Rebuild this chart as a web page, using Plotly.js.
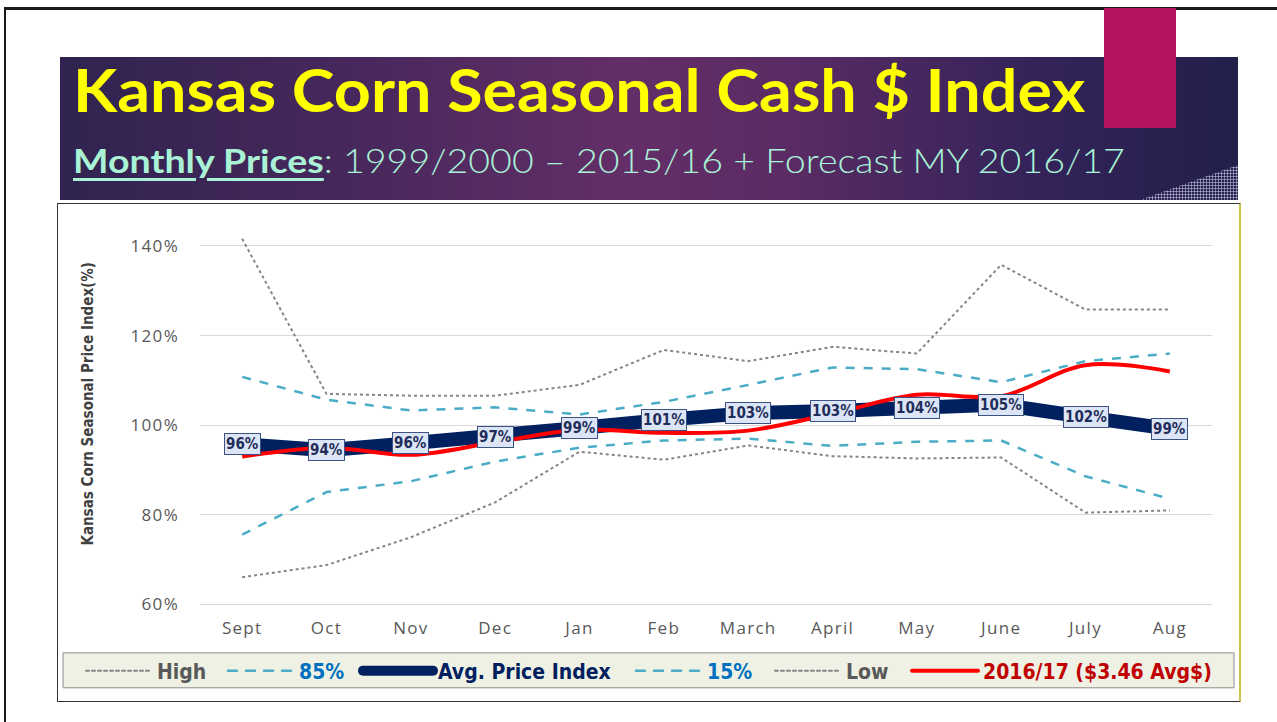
<!DOCTYPE html>
<html><head><meta charset="utf-8">
<script src="https://cdn.plot.ly/plotly-3.0.1.min.js"></script>
<style>
html,body{margin:0;padding:0;background:#fff;width:1277px;height:722px;overflow:hidden;position:relative}
#topline{position:absolute;left:4px;top:7px;width:1273px;height:3px;background:#1a1a1a}
#leftline{position:absolute;left:4px;top:7px;width:2px;height:715px;background:#1a1a1a}
#banner{position:absolute;left:60px;top:57px;width:1178px;height:143px;
 background:linear-gradient(90deg,#30234f 0%,#47285c 25%,#642e68 48%,#5a2b64 62%,#35235a 82%,#221f4a 100%)}
#checker{position:absolute;left:1140px;top:165px;width:98px;height:35px;
 clip-path:polygon(100% 0,100% 100%,0 100%);
 background-image:linear-gradient(90deg,rgba(200,200,230,.55) 1px,transparent 1px),linear-gradient(0deg,rgba(200,200,230,.55) 1px,transparent 1px);
 background-size:3px 3px}
#magenta{position:absolute;left:1104px;top:8px;width:72px;height:120px;background:#b3135f}
.t{position:absolute;white-space:nowrap;transform-origin:0 0;font-family:Lato,'Open Sans',sans-serif;line-height:1}
#title{left:73px;top:60px;color:#ffff00;font-weight:bold;font-size:59px}
#sub{left:73px;top:144px;color:#a9f2d6;font-size:33px;font-weight:300}
#sub b{font-weight:bold;text-decoration:underline;text-decoration-thickness:3px;text-underline-offset:5px}
#frame{position:absolute;left:57px;top:203px;width:1181px;height:497px;border:1px solid #333;border-right:2px solid #c9c24a}
#plot{position:absolute;left:57px;top:203px;width:1183px;height:499px}
#plot .xtick text,#plot .ytick text{letter-spacing:1.3px}
#plot .legendlines path{stroke-linecap:round}
</style></head>
<body>
<div id="topline"></div><div id="leftline"></div>
<div id="banner"></div><div id="checker"></div>
<div id="title" class="t">Kansas Corn Seasonal Cash $ Index</div>
<div id="sub" class="t"><b>Monthly Prices</b>: 1999/2000 – 2015/16 + Forecast MY 2016/17</div>
<div id="magenta"></div>
<div id="frame"></div>
<div id="plot"></div>
<script>
const months = ['Sept','Oct','Nov','Dec','Jan','Feb','March','April','May','June','July','Aug'];
const high   = [141.6,107.0,106.6,106.6,109.0,116.8,114.3,117.5,116.0,135.8,125.8,125.8];
const p85    = [110.8,105.7,103.3,104.0,102.4,105.2,109.0,112.9,112.5,109.6,114.3,116.0];
const avg    = [95.8,94.4,96.0,97.4,99.4,101.2,102.7,103.2,103.9,104.6,101.8,99.2];
const p15    = [75.6,85.1,87.5,91.9,95.0,96.6,97.0,95.4,96.3,96.6,88.6,83.6];
const low    = [66.1,68.8,75.0,82.8,94.1,92.3,95.5,93.1,92.6,92.8,80.5,81.0];
const f2016  = [93.0,95.0,93.4,96.2,99.0,98.3,98.8,102.6,106.8,106.5,113.4,112.0];
const yTicks = [60,80,100,120,140];
const yTickText = ['60%','80%','100%','120%','140%'];

function fit(id,w){const e=document.getElementById(id);e.style.transform='scaleX('+(w/e.offsetWidth)+')';}
fit('title',1012); fit('sub',1052);

const COND = "'DejaVu Sans Condensed','Liberation Sans Narrow',sans-serif";
const grayDot = {color:'#858585',width:2,dash:'dot'};
const teal = {color:'#4bacc6',width:2.5,dash:'dash'};

const traces = [
 {x:months,y:high,name:'High',mode:'lines',line:grayDot,legend:'legend'},
 {x:months,y:p85,name:'85%',mode:'lines',line:teal,legend:'legend2'},
 {x:months,y:avg,name:'Avg. Price Index',mode:'lines',line:{color:'#002060',width:14},legend:'legend3'},
 {x:months,y:p15,name:'15%',mode:'lines',line:teal,legend:'legend4'},
 {x:months,y:low,name:'Low',mode:'lines',line:grayDot,legend:'legend5'},
 {x:months,y:f2016,name:'2016/17 ($3.46 Avg$)',mode:'lines',line:{color:'#ff0000',width:4,shape:'spline',smoothing:1},legend:'legend6'}
].map(t=>Object.assign(t,{hoverinfo:'skip'}));

const L=143, R=28, T=34, B=92, W=1183, H=499;
const pw=W-L-R, ph=H-T-B;
const px=(x)=>(x-57-L)/pw, py=(y)=>(H-B-(y-203))/ph;

function leg(symStart,color,iw){
 return {x:px(symStart-7),y:py(671),xanchor:'left',yanchor:'middle',orientation:'h',
  bgcolor:'rgba(0,0,0,0)',borderwidth:0,itemwidth:iw||66,
  font:{family:COND,size:21,color:color,weight:'bold'}};
}

const annotations = months.map((m,i)=>({
 x:m,y:avg[i],xref:'x',yref:'y',text:Math.round(avg[i])+'%',showarrow:false,
 bgcolor:'#dce5f5',bordercolor:'#3c5283',borderwidth:1,borderpad:1,
 font:{family:COND,size:15,color:'#1f2d5a',weight:'bold'}
}));
annotations.push({xref:'paper',yref:'paper',x:px(88),y:py(404),textangle:-90,showarrow:false,
 text:'Kansas Corn Seasonal Price Index(%)',xanchor:'center',yanchor:'middle',
 font:{family:COND,size:15,color:'#404040',weight:'bold'}});

const layout = {
 width:W,height:H,margin:{l:L,r:R,t:T,b:B},
 paper_bgcolor:'rgba(0,0,0,0)',plot_bgcolor:'rgba(0,0,0,0)',
 showlegend:true,
 xaxis:{type:'category',range:[-0.5,11.5],showgrid:false,zeroline:false,showline:false,ticks:'',
  tickfont:{family:"'Open Sans',sans-serif",size:17,color:'#595959'},ticklabelstandoff:7},
 yaxis:{range:[59,142],tickvals:yTicks,ticktext:yTickText,showgrid:true,gridcolor:'#d9d9d9',gridwidth:1,
  zeroline:false,showline:false,ticks:'',ticklabelstandoff:20,
  tickfont:{family:"'Open Sans',sans-serif",size:17,color:'#595959'}},
 shapes:[{type:'rect',xref:'paper',yref:'paper',layer:'below',
  x0:px(63),x1:px(1234),y0:py(654),y1:py(689),fillcolor:'#eef1e3',line:{color:'#8c8c8c',width:1}}],
 annotations:annotations,
 legend:leg(88,'#595959'),
 legend2:leg(230,'#0070c0'),
 legend3:leg(365,'#002060',70),
 legend4:leg(638,'#0070c0'),
 legend5:leg(777,'#595959'),
 legend6:leg(914,'#c00000')
};
Plotly.newPlot('plot',traces,layout,{staticPlot:true,displayModeBar:false});
</script>
</body></html>
